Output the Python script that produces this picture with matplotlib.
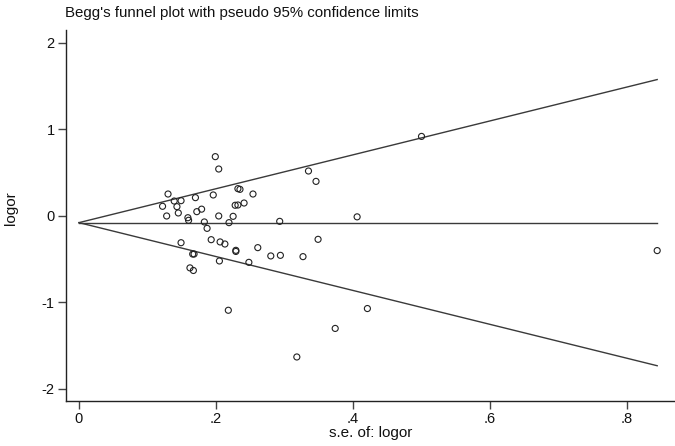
import numpy as np
import matplotlib
matplotlib.use("Agg")
import matplotlib.pyplot as plt

plt.rcParams['font.family'] = ['Liberation Sans', 'DejaVu Sans']

# Study-level data
se = [0.199, 0.204, 0.335, 0.346, 0.406, 0.349, 0.327, 0.421, 0.374, 0.844,
      0.500, 0.318, 0.196, 0.232, 0.235, 0.254, 0.228, 0.232, 0.241, 0.179,
      0.204, 0.225, 0.183, 0.219, 0.293, 0.187, 0.193, 0.206, 0.213, 0.229,
      0.229, 0.261, 0.280, 0.294, 0.205, 0.248, 0.218, 0.130, 0.139, 0.149,
      0.122, 0.143, 0.170, 0.145, 0.128, 0.172, 0.159, 0.160, 0.149, 0.166,
      0.168, 0.162, 0.167]
logor = [0.686, 0.543, 0.52, 0.40, -0.01, -0.27, -0.47, -1.07, -1.30, -0.40,
         0.92, -1.63, 0.243, 0.316, 0.308, 0.254, 0.124, 0.127, 0.150, 0.079,
         0.0, -0.004, -0.069, -0.077, -0.062, -0.143, -0.274, -0.30, -0.324, -0.397,
         -0.41, -0.366, -0.462, -0.455, -0.52, -0.536, -1.09, 0.254, 0.173, 0.177,
         0.112, 0.108, 0.212, 0.035, 0.0, 0.05, -0.02, -0.05, -0.309, -0.44,
         -0.44, -0.60, -0.63]

pooled = -0.077          # fixed-effect pooled log OR (horizontal line)
z = 1.96

xticks = [0, 0.2, 0.4, 0.6, 0.8]
xticklabels = ['0', '.2', '.4', '.6', '.8']
yticks = [-2, -1, 0, 1, 2]
yticklabels = ['-2', '-1', '0', '1', '2']

fig = plt.figure(figsize=(6.75, 4.46), dpi=100)
ax = fig.add_axes([0.0973, 0.1009, 0.9027, 0.8318])

se_max = max(se)
xs = np.array([0.0, se_max])
line_kw = dict(color='#3a3a3a', lw=1.0)
ax.plot(xs, pooled + z * xs, **line_kw)
ax.plot(xs, pooled - z * xs, **line_kw)
ax.plot(xs, [pooled, pooled], **line_kw)

ax.scatter(se, logor, s=19, facecolors='none', edgecolors='#222222',
           linewidths=0.8, zorder=3)

ax.set_xlim(-0.0194, 0.870)
ax.set_ylim(-2.139, 2.15)
ax.set_xticks(xticks)
ax.set_xticklabels(xticklabels)
ax.set_yticks(yticks)
ax.set_yticklabels(yticklabels)

for s in ['top', 'right']:
    ax.spines[s].set_visible(False)
for s in ['left', 'bottom']:
    ax.spines[s].set_color('#222222')
    ax.spines[s].set_linewidth(1.0)

ax.tick_params(axis='both', direction='out', length=6, width=1.0,
               color='#444444', labelsize=10.5, labelcolor='#111111', pad=2)

ax.set_xlabel('s.e. of: logor', fontsize=11, color='#111111')
ax.xaxis.set_label_coords(0.5, -0.068)
ax.set_ylabel('logor', fontsize=11, color='#111111')
ax.yaxis.set_label_coords(-0.078, 0.52)

fig.text(65 / 675, 1 - 13 / 446, "Begg's funnel plot with pseudo 95% confidence limits",
         fontsize=10.8, color='#111111', ha='left', va='center')

fig.savefig('out.png', dpi=100, facecolor='white')
